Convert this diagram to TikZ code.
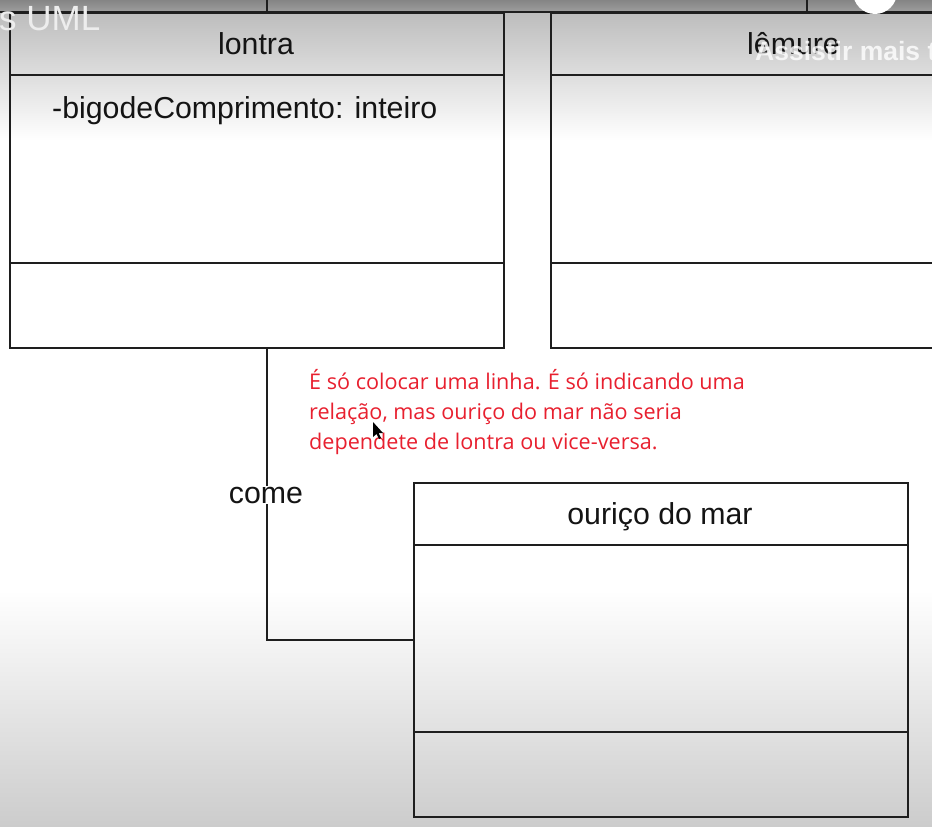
\documentclass[tikz,border=0pt]{standalone}
\usepackage{fontspec}
\setmainfont{Liberation Sans}
\newfontfamily\notefont{Open Sans}
\definecolor{linecol}{HTML}{1E1E1E}
\definecolor{notered}{HTML}{E8202F}
\begin{document}
\begin{tikzpicture}[x=1pt,y=-1pt,
  umlbox/.style={draw=linecol, line width=2pt, rectangle, anchor=north west, inner sep=0pt},
  rel/.style={draw=linecol, line width=2pt},
  big/.style={font=\fontsize{30.3}{36}\selectfont, text=black!92, inner sep=0pt},
  note/.style={font=\notefont\fontsize{21.6}{30}\selectfont, text=notered, inner sep=0pt, anchor=base west},
]
\useasboundingbox (0,0) rectangle (932,827);
% background
\shade[top color=black!48, bottom color=black!38] (0,0) rectangle (932,12);
\shade[top color=black!26, bottom color=white] (0,12) rectangle (932,140);
\fill[white] (0,140) rectangle (932,590);
\shade[top color=white, bottom color=black!20] (0,590) rectangle (932,827);
% top line and stubs
\draw[rel] (0,12) -- (932,12);
\coordinate (stubA) at (267,0);
\coordinate (stubB) at (807,0);
% boxes
\node[umlbox, minimum width=494pt, minimum height=335pt] (lontra) at (9,12) {};
\node[umlbox, minimum width=420pt, minimum height=335pt] (lemure) at (550,12) {};
\node[umlbox, minimum width=494pt, minimum height=334pt] (ourico) at (413,482) {};
\draw[rel] (stubA) -- (stubA |- lontra.north);
\draw[rel] (stubB) -- (stubB |- lemure.north);
% compartments
\draw[rel] ([yshift=-63pt]lontra.north west) -- ([yshift=-63pt]lontra.north east);
\draw[rel] ([yshift=-251pt]lontra.north west) -- ([yshift=-251pt]lontra.north east);
\draw[rel] ([yshift=-63pt]lemure.north west) -- ([yshift=-63pt]lemure.north east);
\draw[rel] ([yshift=-251pt]lemure.north west) -- ([yshift=-251pt]lemure.north east);
\draw[rel] ([yshift=-63pt]ourico.north west) -- ([yshift=-63pt]ourico.north east);
\draw[rel] ([yshift=-250pt]ourico.north west) -- ([yshift=-250pt]ourico.north east);
% texts
\node[big, anchor=base] (tlontra) at (256,54) {lontra};
\node[big, anchor=base west] (tattr) at (52,118) {-bigodeComprimento: inteiro};
\node[big, anchor=base west] (tlemure) at (747,54) {lêmure};
\node[big, anchor=base] (tourico) at (660,524) {ouriço do mar};
% connector
\coordinate (cx) at (267,640);
\draw[rel] (lontra.south -| cx) -- (cx) -- (ourico.west |- cx);
\node[big, anchor=base, fill=white, inner ysep=1pt] (come) at (266,503) {come};
% note
\node[note] (n1) at (309,389) {É só colocar uma linha. É só indicando uma};
\node[note] (n2) at (309,419) {relação, mas ouriço do mar não seria};
\node[note] (n3) at (309,449) {dependete de lontra ou vice-versa.};
% cursor
\fill[black] (373,422) -- (373,437) -- (376.5,434) -- (379,439) -- (381,438) -- (378.5,433) -- (383,433) -- cycle;
% video overlays
\node[font=\fontsize{35}{40}\selectfont, text=black!7, anchor=base west, inner sep=0pt] (title) at (-1,30) {s UML};
\node[font=\bfseries\fontsize{26.5}{30}\selectfont, text=white, opacity=0.8, anchor=base west, inner sep=0pt] (assist) at (755,60) {Assistir mais t};
\fill[white] (875,-8) circle (22);
\end{tikzpicture}
\end{document}
